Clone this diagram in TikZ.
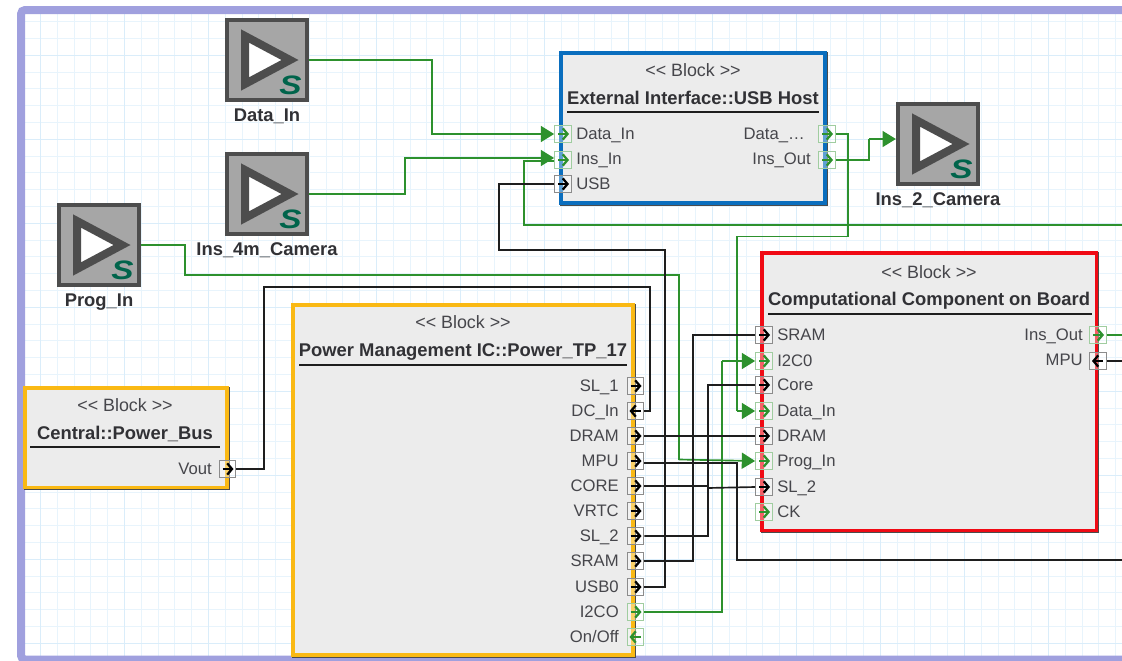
\documentclass[tikz,border=0pt]{standalone}
\usepackage{fontspec}
\setmainfont{Liberation Sans}
\usepackage{tikz}
\usetikzlibrary{arrows.meta,calc}
\definecolor{framefill}{RGB}{160,160,222}
\definecolor{gridminor}{RGB}{232,244,252}
\definecolor{gridmajor}{RGB}{218,237,250}
\definecolor{blockfill}{RGB}{236,236,236}
\definecolor{blockblue}{RGB}{10,110,190}
\definecolor{blockred}{RGB}{240,10,20}
\definecolor{blockgold}{RGB}{250,185,20}
\definecolor{wiregreen}{RGB}{45,145,45}
\definecolor{wireblack}{RGB}{30,30,30}
\definecolor{iconfill}{RGB}{166,166,166}
\definecolor{icondark}{RGB}{77,77,77}
\definecolor{iconletter}{RGB}{0,100,75}
\definecolor{textgrey}{RGB}{70,70,75}
\tikzset{
  block/.style={draw=#1, line width=2.4pt, fill=blockfill, inner sep=0pt, outer sep=0pt, anchor=north west,
    preaction={draw=black!70, line width=2.4pt, transform canvas={shift={(.8pt,-.8pt)}}}},
  stereo/.style={font=\fontsize{13.4}{14}\selectfont, text=textgrey, text height=11.6pt, text depth=2.8pt},
  blockname/.style={font=\fontsize{13.8}{14}\selectfont\bfseries, text=textgrey!70!black, text height=11.8pt, text depth=2.8pt},
  portlabel/.style={font=\fontsize{12.5}{14}\selectfont, text=textgrey, inner xsep=0pt, text height=10.4pt, text depth=2.6pt},
  iconname/.style={font=\fontsize{13.8}{14}\selectfont\bfseries, text=textgrey!70!black, text height=11.8pt, text depth=2.8pt},
  port/.style={draw=#1, fill=white, fill opacity=.35, line width=.9pt, minimum size=12.4pt, inner sep=0pt},
  icon/.style={draw=icondark, fill=iconfill, line width=3.2pt, minimum size=60pt, inner sep=0pt},
  sig/.style={wiregreen, line width=1.25pt},
  pwr/.style={wireblack, line width=1.25pt},
  sigin/.style={sig, -{Triangle[length=10pt,width=12pt]}}
}
% one port: name, x, y, colour, direction
\newcommand{\portnode}[5]{
  \node[port=#4!45!white] (#1) at (#2,#3) {};
  \draw[#4, line width=1.7pt, -{Straight Barb[length=3.6pt,width=8.5pt]}]
    ($(#1)-(#5*5,0)$) -- ($(#1)+(#5*6,0)$);
}
% one source symbol: name, x, y, label
\newcommand{\sourceicon}[4]{
  \node[icon] (#1) at (#2,#3) {};
  \filldraw[icondark, fill=white, line width=6pt, line join=miter]
    ($(#1)+(-22,-24)$) -- ($(#1)+(-22,24)$) -- ($(#1)+(23,0)$) -- cycle;
  \node[font=\fontsize{20}{20}\selectfont\bfseries\itshape, text=iconletter, xscale=1.25] (#1s) at ($(#1)+(23.5,25)$) {S};
  \node[iconname] (#1l) at ($(#1)+(0,55)$) {#4};
}
\begin{document}
\begin{tikzpicture}[x=.75pt,y=-.75pt]
  \useasboundingbox (0,0) rectangle (1122,661);
  % sheet
  \fill[white] (0,0) rectangle (1122,661);
  \begin{scope}
    \clip (25,14) rectangle (1122,658);
    \foreach \k in {0,...,65} {
      \draw[gridminor, line width=.6pt] ({23.5+16.8*\k},14) -- ({23.5+16.8*\k},658);
    }
    \foreach \k in {0,...,38} {
      \draw[gridminor, line width=.6pt] (25,{21.5+16.8*\k}) -- (1122,{21.5+16.8*\k});
    }
    \foreach \k in {0,...,13} {
      \draw[gridmajor, line width=.6pt] ({40.3+84*\k},14) -- ({40.3+84*\k},658);
    }
    \foreach \k in {0,...,8} {
      \draw[gridmajor, line width=.6pt] (25,{55.1+84*\k}) -- (1122,{55.1+84*\k});
    }
  \end{scope}
  \draw[framefill, line width=6pt, rounded corners=3pt] (1130,10) -- (21,10) -- (21,659.5) -- (1130,659.5);

  % blocks
  \node[block=blockblue, minimum width=198pt, minimum height=112.5pt] (usbhost) at (561,53) {};
  \node[block=blockred, minimum width=251pt, minimum height=208pt] (comp) at (762,253) {};
  \node[block=blockgold, minimum width=255pt, minimum height=262.5pt] (pmic) at (293,305) {};
  \node[block=blockgold, minimum width=151.5pt, minimum height=74.5pt] (bus) at (25,388) {};

  \node[stereo] at (693,71) {<{}< Block >{}>};
  \node[blockname] (usbname) at (693,98) {External Interface::USB Host};
  \draw[wireblack, line width=.8pt] (567,112) -- (819,112);
  \node[stereo] at (929,273) {<{}< Block >{}>};
  \node[blockname] (compname) at (929,299) {Computational Component on Board};
  \draw[wireblack, line width=.8pt] (768,314) -- (1092,314);
  \node[stereo] at (463,323) {<{}< Block >{}>};
  \node[blockname] (pmicname) at (463,350) {Power Management IC::Power\_TP\_17};
  \draw[wireblack, line width=.8pt] (299,365) -- (627,365);
  \node[stereo] at (125,406) {<{}< Block >{}>};
  \node[blockname] (busname) at (125,433) {Central::Power\_Bus};
  \draw[wireblack, line width=.8pt] (30,447) -- (220,447);

  % source symbols
  \sourceicon{datain}{267}{60}{Data\_In}
  \sourceicon{insin}{267}{194}{Ins\_4m\_Camera}
  \sourceicon{progin}{99}{245}{Prog\_In}
  \sourceicon{insout}{938}{144}{Ins\_2\_Camera}

  % ports of the USB host
  \portnode{hdata}{563}{134}{wiregreen}{1}
  \portnode{hins}{563}{160}{wiregreen}{1}
  \portnode{husb}{563}{184}{black}{1}
  \portnode{hdout}{827}{134}{wiregreen}{1}
  \portnode{hiout}{827}{160}{wiregreen}{1}
  \node[portlabel, anchor=west] at (576,134) {Data\_In};
  \node[portlabel, anchor=west] at (576,159) {Ins\_In};
  \node[portlabel, anchor=west] at (576,184) {USB};
  \node[portlabel, anchor=east] at (805,134) {Data\_…};
  \node[portlabel, anchor=east] at (811,159) {Ins\_Out};

  % ports of the computational component
  \foreach \pname/\py/\ptext/\pcol in {csram/335/SRAM/black,ci2c/361/I2C0/wiregreen,ccore/385/Core/black,cdata/411/Data\_In/wiregreen,cdram/436/DRAM/black,cprog/461/Prog\_In/wiregreen,csl/487/SL\_2/black,cck/512/CK/wiregreen} {
    \portnode{\pname}{764}{\py}{\pcol}{1}
    \node[portlabel, anchor=west] at (777,\py) {\ptext};
  }
  \portnode{ciout}{1098}{335}{wiregreen}{1}
  \portnode{cmpu}{1098}{361}{black}{-1}
  \node[portlabel, anchor=east] at (1083,335) {Ins\_Out};
  \node[portlabel, anchor=east] at (1083,360) {MPU};

  % ports of the power management block
  \foreach \pname/\py/\pcol/\pdir in {psla/386/black/1,pdc/411/black/-1,pdram/436/black/1,pmpu/461/black/1,pcore/486/black/1,pvrtc/511/black/1,pslb/536/black/1,psram/561/black/1,pusb/587/black/1,pi2c/612/wiregreen/1,ponoff/637/wiregreen/-1} {
    \portnode{\pname}{635.5}{\py}{\pcol}{\pdir}
  }
  \foreach \py/\ptext in {386/SL\_1,411/DC\_In,436/DRAM,461/MPU,486/CORE,511/VRTC,536/SL\_2,561/SRAM,587/USB0,612/I2CO,637/{On/Off}} {
    \node[portlabel, anchor=east] at (619,\py) {\ptext};
  }
  \portnode{bout}{227.5}{469}{black}{1}
  \node[portlabel, anchor=east] at (212,469) {Vout};

  % free ends on the right edge
  \coordinate (edgea) at (1122,225);
  \coordinate (edgeb) at (1122,335);
  \coordinate (edgec) at (1122,361);
  \coordinate (edged) at (1122,560);

  % signal wires
  \draw[sigin] (datain.east) -| (432,134) -- (hdata.west);
  \draw[sigin] (insin.east) -| (405,158) -- (hins.west |- 0,158);
  \draw[sig] (progin.east) -| (185,275) -| (679,460);
  \draw[sigin] (679,459.5) -- (cprog.west);
  \draw[sig] (hdout.east) -| (848,236.5) -| (737,411);
  \draw[sigin] (737,411) -- (cdata.west);
  \draw[sig] (hiout.east) -| (869,139);
  \draw[sigin] (869,139) -- (insout.west |- 0,139);
  \draw[sig] (hins.west |- 0,161) -| (524,225) -- (edgea);
  \draw[sig] (pi2c.east) -| (722,361);
  \draw[sigin] (722,361) -- (ci2c.west);
  \draw[sig] (ciout.east) -- (edgeb);

  % power wires
  \draw[pwr] (husb.west) -| (499,250) -| (665,587) -- (pusb.east);
  \draw[pwr] (bout.east) -| (264,287) -| (650,411) -- (pdc.east);
  \draw[pwr] (pdram.east) -- (cdram.west);
  \draw[pwr] (pmpu.east) ++(0,2) -| (737,560) -- (edged);
  \draw[pwr] (pcore.east) -| (708,385) -- (ccore.west);
  \draw[pwr] (pslb.east) -| (708,488) -- (csl.west);
  \draw[pwr] (psram.east) -| (693,335) -- (csram.west);
  \draw[pwr] (cmpu.east) -- (edgec);
\end{tikzpicture}
\end{document}
